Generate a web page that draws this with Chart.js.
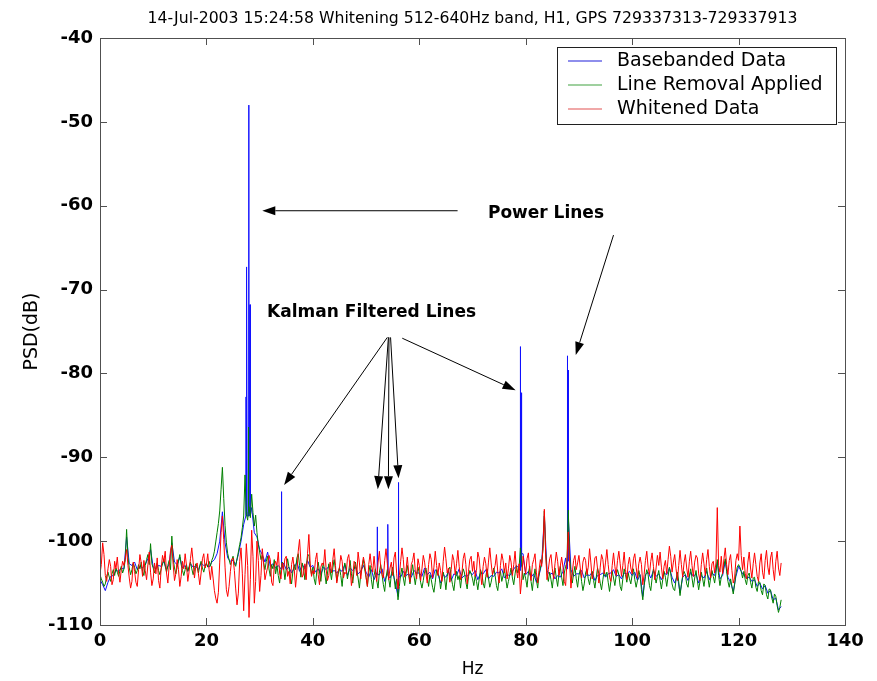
<!DOCTYPE html>
<html>
<head>
<meta charset="utf-8">
<script src="https://cdn.jsdelivr.net/npm/chart.js@4.4.1/dist/chart.umd.min.js"></script>
<style>
  html, body { margin: 0; padding: 0; background: #fff; }
  #psd { display: block; }
</style>
</head>
<body>
<canvas id="psd" width="877" height="681"></canvas>
<script>
// values: basebanded on a 0.5 Hz grid, the other two on a 0.25 Hz grid (0 .. 128 Hz)
var titleText = "14-Jul-2003 15:24:58 Whitening 512-640Hz band, H1, GPS 729337313-729337913";
var seriesNames = ["Basebanded Data", "Line Removal Applied", "Whitened Data"];
var xTicks = [0, 20, 40, 60, 80, 100, 120, 140];
var yTicks = [-110, -100, -90, -80, -70, -60, -50, -40];
var coarseStep = 0.5;
var fineStep = 0.25;

var basebanded = [
  -104.6, -105.2, -105.9, -104.9, -104.2, -104.1, -103.5, -103.6, -103.2, -103.3, -99.5, -102.7, -102.9, -102.5, -103.4, -103.0, -103.2, -102.8, -102.1, -101.0,
  -103.1, -103.3, -102.9, -103.0, -102.4, -103.4, -102.7, -100.2, -102.5, -102.8, -101.9, -103.2, -102.9, -103.6, -102.7, -103.1, -103.0, -103.4, -102.6, -102.9,
  -102.8, -103.1, -102.5, -102.2, -101.5, -100.0, -96.5, -100.2, -102.0, -102.4, -102.3, -102.8, -101.6, -100.0, -98.0, -97.0, -97.0, -96.0, -99.0, -99.5,
  -101.0, -101.6, -102.5, -101.3, -103.0, -102.7, -103.2, -102.9, -103.3, -102.6, -103.4, -103.1, -103.8, -103.2, -102.5, -103.6, -102.8, -103.3, -102.3, -103.1,
  -102.9, -103.7, -103.3, -104.0, -103.1, -103.4, -103.0, -103.7, -103.5, -103.8, -103.4, -103.6, -102.8, -104.1, -103.2, -103.5, -103.1, -103.9, -103.6, -102.9,
  -103.7, -104.3, -103.4, -104.6, -103.8, -104.0, -103.3, -104.8, -103.9, -104.4, -103.7, -105.0, -106.6, -104.3, -103.6, -104.1, -103.9, -104.3, -103.5, -103.8,
  -103.8, -104.2, -103.2, -104.0, -103.7, -104.5, -103.4, -103.9, -105.0, -104.0, -104.3, -103.6, -104.7, -103.9, -104.1, -103.3, -104.4, -104.1, -104.2, -103.7,
  -104.0, -103.5, -104.6, -103.8, -103.9, -103.4, -104.5, -104.1, -104.2, -103.7, -103.8, -103.3, -104.4, -104.0, -104.1, -103.6, -103.1, -103.0, -101.0, -101.5,
  -104.0, -103.6, -104.3, -103.9, -104.9, -104.1, -102.7, -97.0, -103.5, -104.0, -103.8, -104.5, -104.1, -104.3, -103.6, -102.0, -97.0, -103.4, -104.2, -103.9,
  -103.9, -103.5, -104.4, -104.0, -104.1, -103.7, -104.7, -104.1, -104.0, -103.8, -104.3, -103.9, -103.8, -103.4, -104.2, -104.0, -104.5, -103.8, -103.9, -103.6,
  -104.1, -103.7, -104.7, -104.0, -106.6, -104.0, -103.7, -104.4, -103.5, -104.2, -103.9, -104.6, -103.8, -104.0, -103.2, -104.3, -105.0, -104.1, -106.2, -104.3,
  -104.0, -104.7, -103.7, -104.2, -103.9, -105.0, -104.1, -104.4, -103.6, -104.6, -103.8, -104.1, -102.5, -104.5, -104.1, -102.4, -104.3, -104.9, -106.0, -104.2,
  -103.0, -103.6, -104.1, -104.4, -104.3, -104.8, -104.6, -105.4, -105.0, -105.7, -105.3, -106.2, -105.9, -107.0, -106.8, -108.2, -107.8
];

var lineRemoval = [
  -104.0, -104.5, -104.9, -105.4, -105.1, -104.2, -103.7, -104.3, -104.8, -103.9,
  -103.4, -104.1, -103.2, -103.7, -104.2, -103.5, -103.0, -103.8, -103.3, -102.2,
  -98.6, -101.9, -103.2, -104.0, -103.4, -102.6, -103.1, -103.9, -103.5, -102.8,
  -103.3, -102.5, -103.6, -104.1, -102.9, -102.2, -101.6, -102.8, -100.3, -102.7,
  -103.2, -103.8, -103.1, -102.6, -103.5, -104.0, -103.3, -102.7, -102.1, -103.0,
  -103.7, -102.9, -102.3, -103.4, -99.4, -102.1, -103.2, -103.9, -103.1, -102.4,
  -101.6, -102.8, -103.5, -104.1, -103.4, -102.8, -103.6, -103.0, -102.5, -103.3,
  -104.0, -103.4, -102.7, -103.1, -103.8, -102.9, -102.4, -103.2, -103.7, -103.0,
  -102.6, -103.1, -102.4, -103.0, -102.3, -101.9, -101.2, -100.1, -99.0, -97.9,
  -96.4, -93.8, -91.2, -94.9, -98.1, -100.2, -101.5, -102.2, -102.8, -102.3,
  -101.8, -102.7, -103.0, -102.1, -101.3, -100.4, -99.6, -98.4, -97.0, -92.1,
  -96.8, -97.5, -95.9, -97.2, -94.4, -96.6, -98.2, -96.9, -99.0, -100.4,
  -101.3, -102.2, -101.7, -102.6, -103.4, -102.4, -101.8, -103.3, -104.2, -102.8,
  -103.3, -102.2, -103.9, -102.9, -104.1, -105.0, -103.4, -102.5, -103.2, -104.6,
  -103.3, -102.1, -103.1, -104.2, -105.1, -103.6, -102.8, -103.4, -102.0, -101.5,
  -102.9, -104.3, -102.6, -103.3, -104.6, -103.1, -101.8, -101.6, -103.0, -104.0,
  -103.1, -104.5, -105.2, -103.5, -102.5, -103.6, -104.8, -103.3, -102.6, -103.9,
  -105.1, -103.8, -102.7, -103.5, -104.6, -103.2, -102.2, -103.4, -104.8, -104.0,
  -103.1, -104.1, -105.4, -103.6, -102.6, -103.3, -104.5, -103.5, -102.3, -103.9,
  -105.0, -103.4, -102.5, -103.5, -104.4, -105.6, -103.9, -103.0, -102.2, -103.4,
  -104.3, -105.4, -103.8, -102.9, -104.6, -105.7, -104.1, -103.3, -104.7, -105.6,
  -103.7, -102.8, -104.0, -105.2, -106.0, -104.3, -103.4, -104.5, -105.5, -103.9,
  -103.1, -104.3, -105.7, -104.5, -107.0, -105.4, -104.0, -103.2, -104.4, -105.3,
  -103.9, -102.9, -104.0, -105.1, -103.8, -102.8, -104.1, -105.2, -104.0, -103.1,
  -103.8, -104.9, -105.6, -104.7, -103.6, -103.2, -104.3, -105.4, -104.0, -104.6,
  -105.5, -106.1, -104.9, -103.4, -103.9, -104.2, -105.7, -104.6, -103.7, -104.4,
  -105.8, -104.2, -103.4, -103.1, -104.3, -105.2, -105.9, -104.5, -103.6, -104.6,
  -104.1, -105.6, -104.2, -103.3, -103.8, -104.9, -105.7, -104.2, -103.5, -103.9,
  -104.5, -105.3, -104.1, -104.8, -105.8, -104.6, -103.4, -103.9, -105.0, -105.6,
  -104.2, -103.3, -104.4, -105.5, -104.9, -104.0, -103.2, -104.1, -105.3, -105.9,
  -104.4, -103.6, -104.8, -104.1, -103.3, -104.5, -105.6, -104.8, -104.0, -103.2,
  -104.4, -105.2, -103.9, -102.9, -103.8, -103.2, -100.8, -102.6, -104.6, -103.8,
  -104.5, -105.5, -103.8, -103.0, -104.8, -105.9, -104.3, -103.3, -104.6, -105.6,
  -104.0, -103.2, -102.6, -100.9, -96.4, -101.3, -103.9, -104.8, -103.7, -104.6,
  -105.6, -104.1, -103.2, -104.4, -105.4, -103.9, -103.0, -104.3, -105.3, -103.8,
  -103.0, -102.6, -96.3, -101.8, -103.8, -105.0, -103.9, -103.0, -104.5, -105.5,
  -104.1, -103.4, -104.8, -105.9, -105.1, -103.8, -103.3, -104.5, -105.2, -104.2,
  -103.6, -104.7, -105.6, -104.3, -103.2, -103.9, -105.0, -105.8, -104.6, -103.5,
  -104.2, -103.7, -104.9, -106.0, -104.8, -103.6, -104.4, -105.3, -104.1, -103.4,
  -104.0, -105.4, -105.9, -104.5, -103.3, -104.0, -104.9, -103.8, -104.5, -105.1,
  -104.0, -103.3, -104.6, -105.5, -104.7, -103.5, -104.2, -105.8, -107.0, -105.3,
  -104.2, -103.4, -104.0, -105.3, -105.9, -104.4, -103.3, -104.1, -105.0, -104.2,
  -103.5, -104.7, -105.7, -104.6, -103.6, -104.3, -105.4, -104.2, -103.1, -103.9,
  -105.1, -105.7, -105.9, -104.6, -103.7, -104.8, -106.5, -105.2, -104.1, -103.6,
  -104.0, -105.1, -105.5, -104.2, -103.3, -104.4, -105.5, -104.4, -103.5, -104.7,
  -105.8, -104.8, -103.7, -104.5, -105.4, -104.2, -103.2, -104.4, -105.5, -104.4,
  -103.5, -104.2, -105.0, -103.8, -102.2, -104.1, -105.3, -104.3, -103.8, -102.9,
  -102.1, -103.6, -104.8, -105.5, -104.5, -105.4, -106.3, -105.2, -103.9, -103.1,
  -102.8, -103.1, -103.6, -104.4, -103.6, -104.6, -105.2, -104.1, -103.8, -104.9,
  -105.6, -104.4, -104.3, -105.5, -106.0, -104.8, -104.9, -105.9, -106.4, -105.1,
  -105.3, -106.4, -106.9, -105.7, -105.8, -106.8, -107.4, -106.3, -106.6, -107.7,
  -108.5, -107.9, -107.0
];

var whitened = [
  -103.9, -102.8, -100.2, -101.6, -104.1, -104.8, -103.3, -102.2, -103.0, -105.2,
  -104.6, -102.4, -103.3, -101.9, -103.8, -104.9, -103.4, -102.4, -102.9, -102.1,
  -101.0, -102.9, -104.4, -105.6, -104.8, -102.5, -103.6, -104.9, -105.4, -103.4,
  -101.6, -102.6, -104.2, -102.3, -103.5, -104.6, -102.8, -101.3, -103.7, -105.3,
  -104.5, -102.6, -103.9, -102.0, -104.7, -105.6, -103.2, -101.7, -102.5, -101.2,
  -103.8, -105.0, -102.9, -101.1, -100.5, -102.8, -104.7, -103.9, -102.2, -103.4,
  -105.4, -104.2, -102.4, -103.3, -101.5, -102.9, -104.8, -103.6, -102.1, -100.8,
  -102.5, -104.4, -103.0, -102.6, -103.9, -105.2, -103.8, -102.1, -101.5, -103.2,
  -102.7, -101.5, -103.4, -104.6, -103.0, -104.4, -105.9, -106.8, -107.4, -106.1,
  -102.5, -99.0, -97.0, -99.8, -103.1, -105.8, -106.6, -105.4, -103.6, -102.2,
  -102.0, -103.5, -105.7, -107.6, -106.2, -102.4, -100.8, -103.9, -108.3, -104.0,
  -100.3, -102.9, -109.1, -104.6, -98.7, -101.8, -107.4, -104.8, -100.0, -102.3,
  -106.0, -104.1, -100.9, -102.6, -104.6, -103.8, -103.1, -101.7, -102.2, -104.9,
  -105.3, -103.0, -102.4, -102.9, -101.3, -103.8, -104.5, -102.6, -103.4, -102.1,
  -101.8, -104.2, -103.6, -105.1, -102.8, -101.9, -103.3, -105.5, -103.7, -101.2,
  -99.8, -102.4, -104.3, -103.9, -102.7, -104.6, -101.5, -99.2, -102.7, -104.2,
  -103.5, -103.9, -102.2, -101.4, -104.0, -105.2, -103.1, -102.6, -102.9, -101.0,
  -103.4, -104.7, -104.1, -102.5, -103.8, -102.2, -100.9, -102.9, -105.0, -103.6,
  -103.2, -101.7, -102.4, -104.4, -103.7, -103.9, -102.1, -101.6, -103.3, -105.3,
  -104.2, -102.4, -102.8, -104.1, -101.3, -102.6, -104.5, -103.0, -101.9, -102.7,
  -104.3, -105.4, -102.8, -101.5, -102.9, -103.7, -101.8, -103.5, -104.8, -102.6,
  -101.2, -103.1, -104.0, -104.4, -102.3, -100.9, -102.7, -104.6, -103.2, -102.5,
  -104.1, -102.0, -101.3, -103.9, -105.7, -104.1, -102.4, -100.8, -102.2, -104.3,
  -103.5, -101.9, -103.7, -104.9, -102.8, -102.3, -101.4, -103.6, -104.5, -102.1,
  -102.9, -104.7, -103.3, -101.7, -102.5, -103.9, -105.0, -102.8, -101.5, -102.2,
  -104.4, -103.1, -101.2, -102.9, -104.1, -102.6, -103.5, -104.8, -102.4, -100.7,
  -102.1, -103.8, -103.2, -104.9, -103.4, -101.6, -102.3, -104.0, -102.7, -101.1,
  -103.0, -104.6, -103.9, -102.1, -101.4, -102.8, -105.1, -103.6, -102.2, -101.8,
  -103.6, -102.4, -104.2, -103.5, -101.3, -102.0, -103.9, -105.2, -103.0, -101.9,
  -102.7, -104.3, -102.5, -100.8, -102.6, -104.0, -103.4, -102.9, -101.6, -103.7,
  -105.0, -102.9, -101.5, -102.3, -103.8, -102.6, -104.5, -103.3, -101.7, -102.5,
  -104.1, -102.8, -101.2, -103.4, -104.4, -102.7, -106.3, -104.5, -101.8, -102.9,
  -103.9, -102.1, -101.4, -103.6, -104.7, -102.8, -102.2, -101.5, -103.7, -105.0,
  -103.5, -102.2, -103.0, -100.8, -96.2, -101.5, -104.6, -103.4, -102.1, -101.6,
  -103.3, -104.5, -102.7, -101.3, -102.4, -104.1, -103.0, -101.9, -103.1, -104.8,
  -105.3, -102.4, -98.9, -102.7, -105.6, -103.8, -102.3, -101.7, -103.4, -102.6,
  -101.7, -103.2, -104.4, -102.5, -101.9, -102.3, -104.0, -103.1, -100.9, -102.6,
  -104.5, -103.6, -102.0, -101.8, -103.3, -105.0, -103.1, -101.6, -102.2, -103.9,
  -102.5, -101.0, -102.8, -104.3, -104.8, -102.9, -101.4, -103.0, -104.1, -102.3,
  -101.2, -102.7, -104.2, -102.9, -101.3, -103.4, -104.6, -102.8, -101.9, -103.2,
  -103.9, -102.1, -101.5, -103.1, -104.4, -102.7, -101.9, -102.8, -105.2, -104.0,
  -102.3, -101.2, -103.1, -104.0, -102.4, -101.4, -103.0, -104.6, -103.2, -101.7,
  -102.9, -101.3, -103.1, -104.5, -103.0, -102.3, -103.9, -102.2, -100.6, -101.8,
  -103.7, -102.5, -101.6, -103.3, -104.7, -102.9, -101.1, -102.8, -104.3, -102.6,
  -101.6, -103.2, -104.3, -102.4, -101.2, -102.9, -104.2, -102.5, -101.7, -102.0,
  -103.9, -104.7, -102.8, -101.4, -102.7, -104.1, -102.2, -101.0, -103.0, -104.4,
  -102.7, -102.4, -103.8, -102.6, -96.0, -102.9, -103.7, -101.8, -103.9, -102.1,
  -100.8, -102.8, -104.0, -102.3, -101.6, -103.5, -105.0, -104.4, -102.3, -101.5,
  -102.3, -98.2, -101.7, -103.4, -101.9, -103.9, -104.5, -102.5, -101.3, -103.2,
  -104.4, -102.7, -101.4, -102.8, -104.2, -104.8, -102.6, -101.5, -103.7, -104.5,
  -102.3, -101.1, -103.1, -104.0, -102.0, -101.3, -103.4, -104.7, -102.4, -101.2,
  -103.2, -104.1, -102.6
];

// narrow spectral lines that fall between grid points (foot, peak, foot)
var baseLineHz = [27.40, 27.44, 27.47, 27.58, 27.62, 27.66, 27.91, 27.95, 27.99, 28.16, 28.20, 28.24,
  34.06, 34.10, 34.14, 52.06, 52.10, 52.14, 54.06, 54.10, 54.14, 56.06, 56.10, 56.14,
  78.96, 79.00, 79.04, 79.16, 79.20, 79.24, 87.76, 87.80, 87.84, 87.91, 87.95, 87.99];
var baseLineDb = [-97.0, -82.8, -97.0, -97.0, -67.3, -97.0, -97.0, -48.0, -97.0, -97.0, -71.8, -97.0,
  -103.2, -94.1, -103.4, -103.8, -98.3, -104.0, -103.6, -98.0, -104.1, -103.9, -93.0, -104.2,
  -103.5, -76.8, -103.2, -103.0, -82.3, -101.5, -103.3, -77.9, -103.0, -102.6, -79.6, -102.4];
var removalLineHz = [27.86, 27.90, 27.94];
var removalLineDb = [-96.5, -86.4, -96.0];
var whitenedLineHz = [];
var whitenedLineDb = [];

var colors = ["#1010ff", "#008000", "#ff0000"];
var legendColors = ["rgba(40,40,220,0.7)", "rgba(40,150,40,0.6)", "rgba(220,60,60,0.6)"];

function buildPoints(values, step, lineHz, lineDb) {
  var pts = values.map(function (v, i) { return { x: i * step, y: v }; });
  lineHz.forEach(function (x, i) { pts.push({ x: x, y: lineDb[i] }); });
  pts.sort(function (a, b) { return a.x - b.x; });
  return pts;
}

// annotations in data units (Hz, dB)
var notes = [
  { text: "Power Lines", x: 72.9, y: -60.9 },
  { text: "Kalman Filtered Lines", x: 31.4, y: -72.8 }
];
var arrows = [
  [67.2, -60.6, 30.5, -60.6],
  [96.5, -63.5, 89.4, -77.8],
  [54.0, -75.7, 34.6, -93.3],
  [54.2, -75.7, 52.2, -93.8],
  [54.3, -75.7, 54.2, -93.8],
  [54.6, -75.7, 56.1, -92.5],
  [56.8, -75.8, 78.1, -82.0]
];

var frameAndNotes = {
  id: "frameAndNotes",
  afterDraw: function (chart) {
    var c = chart.ctx, a = chart.chartArea;
    var xs = chart.scales.x, ys = chart.scales.y;
    c.save();
    // axes box and inward ticks
    c.strokeStyle = "#505050";
    c.lineWidth = 1;
    c.strokeRect(a.left + 0.5, a.top + 0.5, a.right - a.left, a.bottom - a.top);
    c.beginPath();
    xTicks.forEach(function (v) {
      var px = Math.round(xs.getPixelForValue(v)) + 0.5;
      c.moveTo(px, a.bottom); c.lineTo(px, a.bottom - 7);
      c.moveTo(px, a.top); c.lineTo(px, a.top + 7);
    });
    yTicks.forEach(function (v) {
      var py = Math.round(ys.getPixelForValue(v)) + 0.5;
      c.moveTo(a.left, py); c.lineTo(a.left + 7, py);
      c.moveTo(a.right, py); c.lineTo(a.right - 7, py);
    });
    c.stroke();

    // title
    c.fillStyle = "#000";
    c.font = "15.7px 'DejaVu Sans'";
    c.textAlign = "center";
    c.textBaseline = "middle";
    c.fillText(titleText, (a.left + a.right) / 2, 19);

    // annotation text and arrows
    c.font = "bold 17px 'DejaVu Sans'";
    c.textAlign = "left";
    notes.forEach(function (n) {
      c.fillText(n.text, xs.getPixelForValue(n.x), ys.getPixelForValue(n.y));
    });
    c.strokeStyle = "#000";
    arrows.forEach(function (ar) {
      var x0 = xs.getPixelForValue(ar[0]), y0 = ys.getPixelForValue(ar[1]);
      var x1 = xs.getPixelForValue(ar[2]), y1 = ys.getPixelForValue(ar[3]);
      var ang = Math.atan2(y1 - y0, x1 - x0);
      var L = 13, W = 4.5;
      var bx = x1 - L * Math.cos(ang), by = y1 - L * Math.sin(ang);
      c.beginPath();
      c.moveTo(x0, y0); c.lineTo(bx, by);
      c.stroke();
      c.beginPath();
      c.moveTo(x1, y1);
      c.lineTo(bx + W * Math.sin(ang), by - W * Math.cos(ang));
      c.lineTo(bx - W * Math.sin(ang), by + W * Math.cos(ang));
      c.closePath();
      c.fill();
    });

    // legend box
    var lw = 279, lh = 77;
    var lx = a.right - 9 - lw, ly = a.top + 9;
    c.fillStyle = "#fff";
    c.fillRect(lx, ly, lw, lh);
    c.strokeStyle = "#202020";
    c.strokeRect(lx + 0.5, ly + 0.5, lw, lh);
    c.font = "19px 'DejaVu Sans'";
    c.textBaseline = "middle";
    seriesNames.forEach(function (name, i) {
      var yy = ly + 14 + i * 24;
      c.strokeStyle = legendColors[i];
      c.lineWidth = 1.5;
      c.beginPath();
      c.moveTo(lx + 11, yy); c.lineTo(lx + 45, yy);
      c.stroke();
      c.fillStyle = "#000";
      c.fillText(name, lx + 60, yy);
    });
    c.restore();
  }
};

var ctx = document.getElementById("psd").getContext("2d");
new Chart(ctx, {
  type: "line",
  data: {
    datasets: [
      { label: seriesNames[0], data: buildPoints(basebanded, coarseStep, baseLineHz, baseLineDb), borderColor: colors[0], order: 2 },
      { label: seriesNames[1], data: buildPoints(lineRemoval, fineStep, removalLineHz, removalLineDb), borderColor: colors[1], order: 1 },
      { label: seriesNames[2], data: buildPoints(whitened, fineStep, whitenedLineHz, whitenedLineDb), borderColor: colors[2], order: 0 }
    ]
  },
  options: {
    responsive: false,
    animation: false,
    events: [],
    layout: { padding: { top: 38, right: 32, left: 0, bottom: 0 } },
    elements: {
      point: { radius: 0 },
      line: { borderWidth: 1, tension: 0, fill: false }
    },
    plugins: {
      legend: { display: false },
      tooltip: { enabled: false },
      title: { display: false }
    },
    scales: {
      x: {
        type: "linear", min: 0, max: 140,
        afterBuildTicks: function (s) { s.ticks = xTicks.map(function (v) { return { value: v }; }); },
        afterFit: function (s) { s.height = 56; },
        ticks: { color: "#000", padding: 6, maxRotation: 0, font: { family: "DejaVu Sans", size: 18, weight: "bold" } },
        grid: { display: false, drawTicks: false },
        border: { display: false },
        title: { display: true, text: "Hz", color: "#000", padding: { top: 0, bottom: 1 }, font: { family: "DejaVu Sans", size: 17 } }
      },
      y: {
        type: "linear", min: -110, max: -40,
        afterBuildTicks: function (s) { s.ticks = yTicks.map(function (v) { return { value: v }; }); },
        afterFit: function (s) { s.width = 100; },
        ticks: { color: "#000", padding: 7, font: { family: "DejaVu Sans", size: 18, weight: "bold" } },
        grid: { display: false, drawTicks: false },
        border: { display: false },
        title: { display: true, text: "PSD(dB)", color: "#000", padding: { top: 21, bottom: 0 }, font: { family: "DejaVu Sans", size: 19 } }
      }
    }
  },
  plugins: [frameAndNotes]
});
</script>
</body>
</html>
